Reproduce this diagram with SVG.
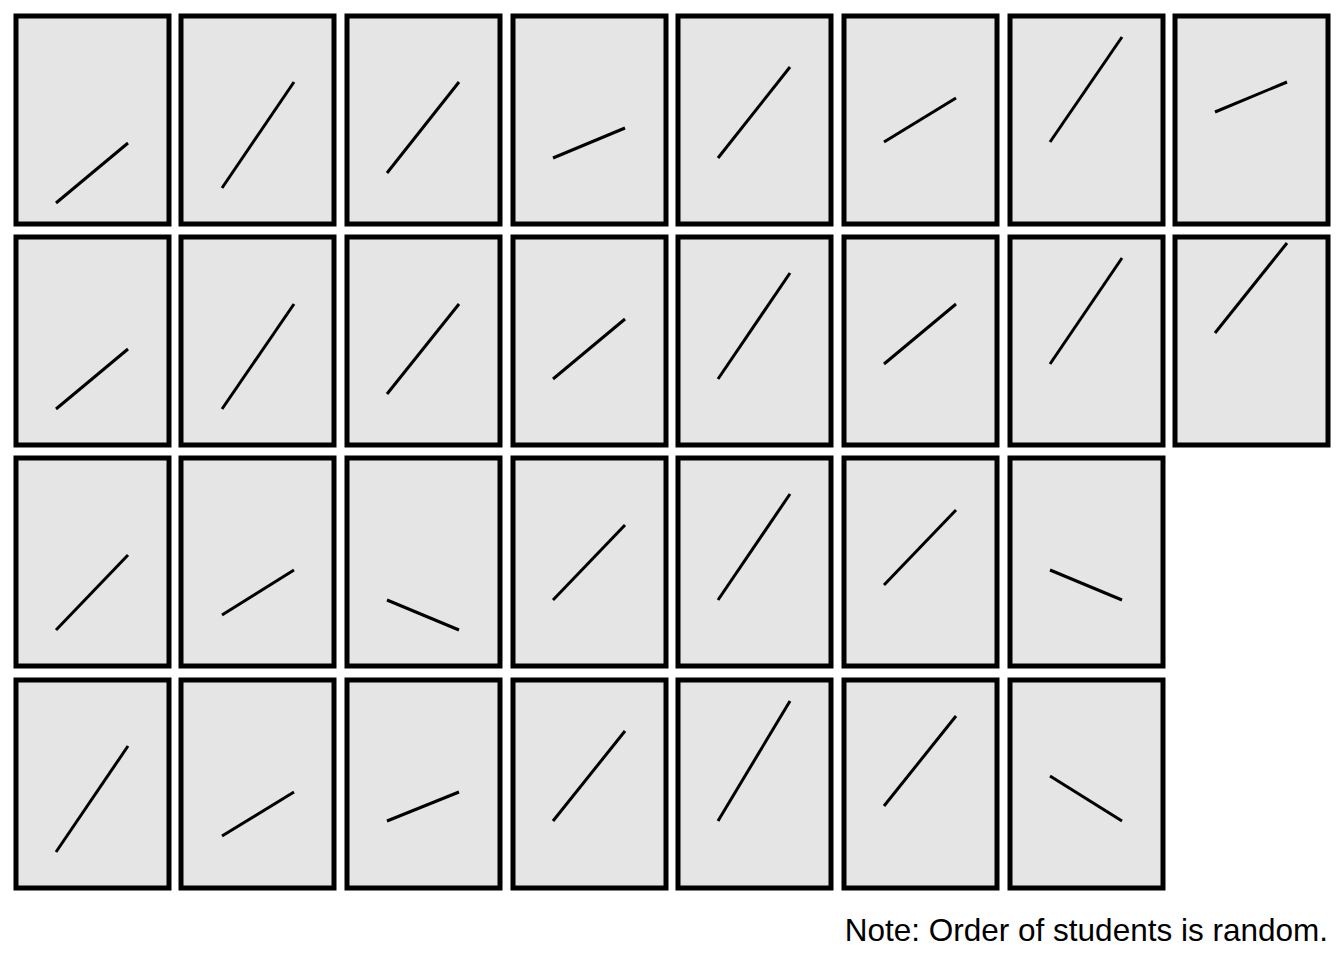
<svg xmlns="http://www.w3.org/2000/svg" width="1344" height="960" viewBox="0 0 1344 960">
<style>
.p{fill:#e5e5e5;stroke:#000;stroke-width:5}
.l{stroke:#000;stroke-width:3;fill:none}
text{font-family:"Liberation Sans",Arial,sans-serif;font-size:31.5px}
</style>
<rect width="1344" height="960" fill="#fff"/>
<g id="panels">
<g id="r1">
<rect class="p" x="16" y="16" width="153" height="208"/><rect class="p" x="181" y="16" width="153" height="208"/><rect class="p" x="347" y="16" width="153" height="208"/><rect class="p" x="513" y="16" width="153" height="208"/><rect class="p" x="678" y="16" width="153" height="208"/><rect class="p" x="844" y="16" width="153" height="208"/><rect class="p" x="1010" y="16" width="153" height="208"/><rect class="p" x="1175" y="16" width="153" height="208"/>
</g>
<g id="r2">
<rect class="p" x="16" y="237" width="153" height="208"/><rect class="p" x="181" y="237" width="153" height="208"/><rect class="p" x="347" y="237" width="153" height="208"/><rect class="p" x="513" y="237" width="153" height="208"/><rect class="p" x="678" y="237" width="153" height="208"/><rect class="p" x="844" y="237" width="153" height="208"/><rect class="p" x="1010" y="237" width="153" height="208"/><rect class="p" x="1175" y="237" width="153" height="208"/>
</g>
<g id="r3">
<rect class="p" x="16" y="458" width="153" height="208"/><rect class="p" x="181" y="458" width="153" height="208"/><rect class="p" x="347" y="458" width="153" height="208"/><rect class="p" x="513" y="458" width="153" height="208"/><rect class="p" x="678" y="458" width="153" height="208"/><rect class="p" x="844" y="458" width="153" height="208"/><rect class="p" x="1010" y="458" width="153" height="208"/>
</g>
<g id="r4">
<rect class="p" x="16" y="680" width="153" height="208"/><rect class="p" x="181" y="680" width="153" height="208"/><rect class="p" x="347" y="680" width="153" height="208"/><rect class="p" x="513" y="680" width="153" height="208"/><rect class="p" x="678" y="680" width="153" height="208"/><rect class="p" x="844" y="680" width="153" height="208"/><rect class="p" x="1010" y="680" width="153" height="208"/>
</g>
</g>
<g id="lines" class="l">
<line x1="56" y1="203" x2="128" y2="143"/><line x1="222" y1="188" x2="294" y2="82"/><line x1="387" y1="173" x2="459" y2="82"/><line x1="553" y1="158" x2="625" y2="128"/><line x1="718" y1="158" x2="790" y2="67"/><line x1="884" y1="142" x2="956" y2="98"/><line x1="1050" y1="142" x2="1122" y2="37"/><line x1="1215" y1="112" x2="1287" y2="82"/>
<line x1="56" y1="409" x2="128" y2="349"/><line x1="222" y1="409" x2="294" y2="304"/><line x1="387" y1="394" x2="459" y2="304"/><line x1="553" y1="379" x2="625" y2="319"/><line x1="718" y1="379" x2="790" y2="273"/><line x1="884" y1="364" x2="956" y2="304"/><line x1="1050" y1="364" x2="1122" y2="258"/><line x1="1215" y1="333" x2="1287" y2="243"/>
<line x1="56" y1="630" x2="128" y2="555"/><line x1="222" y1="615" x2="294" y2="570"/><line x1="387" y1="600" x2="459" y2="630"/><line x1="553" y1="600" x2="625" y2="525"/><line x1="718" y1="600" x2="790" y2="494"/><line x1="884" y1="585" x2="956" y2="510"/><line x1="1050" y1="570" x2="1122" y2="600"/>
<line x1="56" y1="852" x2="128" y2="746"/><line x1="222" y1="836" x2="294" y2="792"/><line x1="387" y1="821" x2="459" y2="792"/><line x1="553" y1="821" x2="625" y2="731"/><line x1="718" y1="821" x2="790" y2="701"/><line x1="884" y1="806" x2="956" y2="716"/><line x1="1050" y1="776" x2="1122" y2="821"/>
</g>
<text x="1328" y="941" text-anchor="end">Note: Order of students is random.</text>
</svg>
